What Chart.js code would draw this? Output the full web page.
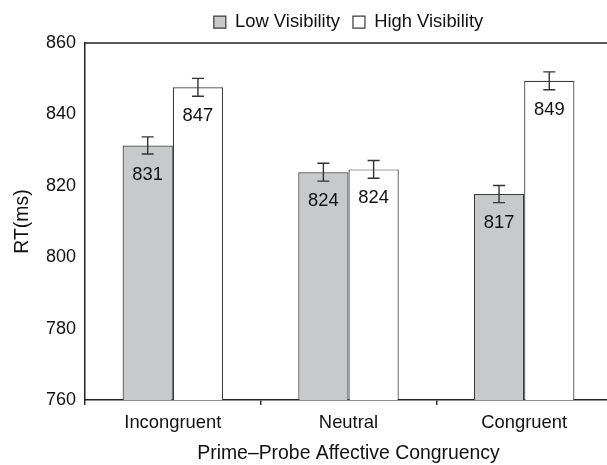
<!DOCTYPE html>
<html>
<head>
<meta charset="utf-8">
<style>
  html, body { margin: 0; padding: 0; background: #fff; overflow: hidden; }
  #chart { display: block; }
</style>
<script src="https://cdn.jsdelivr.net/npm/chart.js@4.4.1/dist/chart.umd.min.js"></script>
</head>
<body>
<canvas id="chart" width="612" height="465"></canvas>
<script>
// Data
const categories = ['Incongruent', 'Neutral', 'Congruent'];
const lowVisibility = [831.3, 823.8, 817.7];
const highVisibility = [847.6, 824.6, 849.4];
const lowErr = [2.4, 2.5, 2.4];
const highErr = [2.5, 2.5, 2.5];
const lowText = ['831', '824', '817'];
const highText = ['847', '824', '849'];
const yTicks = [760, 780, 800, 820, 840, 860];

Chart.defaults.font.family = "Arial, 'Liberation Sans', sans-serif";
Chart.defaults.color = '#111';

// Fixed legend height so the plot starts where the original does
const legendHeight = {
    id: 'legendHeight',
    beforeLayout(chart) {
        const lg = chart.legend;
        if (lg && !lg._patched) {
            const fit = lg.fit;
            lg.fit = function () {
                fit.call(this);
                this.height = 43;
            };
            lg._patched = true;
        }
    }
};

// Top frame line at 860
const topLine = {
    id: 'topLine',
    afterDraw(chart) {
        const { ctx, chartArea } = chart;
        ctx.save();
        ctx.strokeStyle = '#222';
        ctx.lineWidth = 1.5;
        ctx.beginPath();
        ctx.moveTo(chartArea.left, chartArea.top);
        ctx.lineTo(chart.width, chartArea.top);
        ctx.stroke();
        ctx.restore();
    }
};

// Error bars and value labels
const errorBars = {
    id: 'errorBars',
    afterDatasetsDraw(chart) {
        const { ctx } = chart;
        const y = chart.scales.y;
        const errs = [lowErr, highErr];
        const texts = [lowText, highText];
        chart.data.datasets.forEach((ds, di) => {
            const meta = chart.getDatasetMeta(di);
            meta.data.forEach((bar, i) => {
                const v = ds.data[i];
                const yHi = y.getPixelForValue(v + errs[di][i]);
                const yLo = y.getPixelForValue(v - errs[di][i]);
                ctx.save();
                ctx.strokeStyle = '#333';
                ctx.lineWidth = 1.4;
                ctx.beginPath();
                ctx.moveTo(bar.x, yHi); ctx.lineTo(bar.x, yLo);
                ctx.moveTo(bar.x - 6, yHi); ctx.lineTo(bar.x + 6, yHi);
                ctx.moveTo(bar.x - 6, yLo); ctx.lineTo(bar.x + 6, yLo);
                ctx.stroke();

                ctx.fillStyle = '#111';
                ctx.font = "18.4px Arial, 'Liberation Sans', sans-serif";
                ctx.textAlign = 'center';
                ctx.textBaseline = 'middle';
                ctx.fillText(texts[di][i], bar.x, bar.y + 29);
                ctx.restore();
            });
        });
    }
};

new Chart(document.getElementById('chart'), {
    type: 'bar',
    data: {
        labels: categories,
        datasets: [
            {
                label: 'Low Visibility',
                data: lowVisibility,
                backgroundColor: '#c8c9cb',
                borderColor: '#3a3a3a',
                borderWidth: 1.2
            },
            {
                label: 'High Visibility',
                data: highVisibility,
                backgroundColor: '#ffffff',
                borderColor: '#3a3a3a',
                borderWidth: 1.2
            }
        ]
    },
    options: {
        responsive: false,
        animation: false,
        layout: { padding: { left: 0, right: 0, top: 0, bottom: 0 } },
        datasets: {
            bar: { categoryPercentage: 0.572, barPercentage: 1 }
        },
        plugins: {
            legend: {
                position: 'top',
                fullSize: false,
                labels: {
                    boxWidth: 12,
                    boxHeight: 12,
                    padding: 13,
                    color: '#111',
                    font: { size: 18.4 }
                }
            },
            tooltip: { enabled: false }
        },
        scales: {
            x: {
                offset: true,
                grid: {
                    offset: true,
                    drawOnChartArea: false,
                    tickLength: 5,
                    color: '#333',
                    lineWidth: 1.5
                },
                border: { color: '#222', width: 1.5 },
                ticks: { color: '#111', font: { size: 18.4 }, padding: 7 },
                title: {
                    display: true,
                    text: 'Prime–Probe Affective Congruency',
                    color: '#111',
                    font: { size: 19.4 },
                    padding: { top: 2, bottom: 0 }
                },
                afterFit(scale) { scale.height = 65; }
            },
            y: {
                min: yTicks[0],
                max: yTicks[yTicks.length - 1],
                grid: { drawOnChartArea: false, drawTicks: false },
                border: { color: '#222', width: 1.5 },
                afterBuildTicks(scale) {
                    scale.ticks = yTicks.map(v => ({ value: v }));
                },
                ticks: { color: '#111', font: { size: 18 }, padding: 9 },
                title: {
                    display: true,
                    text: 'RT(ms)',
                    color: '#111',
                    font: { size: 19.4 },
                    padding: { top: 11, bottom: 0 }
                },
                afterFit(scale) { scale.width = 85; }
            }
        }
    },
    plugins: [legendHeight, topLine, errorBars]
});
</script>
</body>
</html>
